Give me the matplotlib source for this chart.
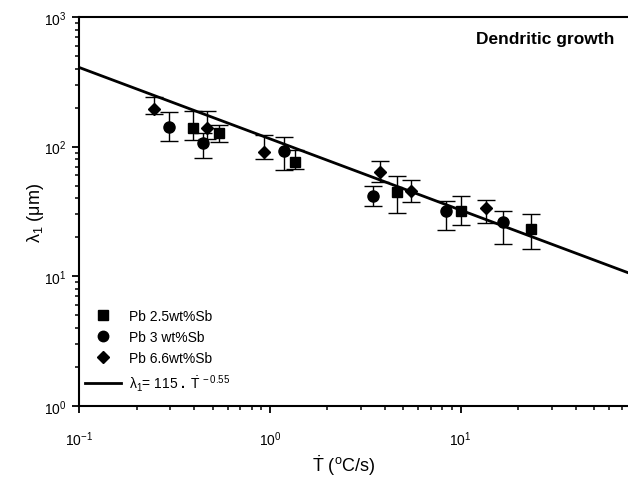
import matplotlib
matplotlib.use("Agg")
import matplotlib.pyplot as plt
import numpy as np

plt.rcParams['font.family'] = ['Liberation Sans', 'DejaVu Sans']
plt.rcParams['mathtext.fontset'] = 'custom'
plt.rcParams['mathtext.rm'] = 'Liberation Sans'
plt.rcParams['mathtext.it'] = 'Liberation Sans:italic'
plt.rcParams['mathtext.bf'] = 'Liberation Sans:bold'

# Cooling rate (C/s), spacing (um) and error bar ends for each alloy
pb25_rate = [0.393, 0.542, 1.35, 4.63, 9.99, 23.4]
pb25_spacing = [139, 127, 75.7, 44.9, 31.9, 23.1]
pb25_upper = [189, 147, 94.6, 59.7, 41.4, 30.1]
pb25_lower = [113, 108, 67.2, 30.6, 25.0, 16.3]

pb3_rate = [0.296, 0.443, 1.18, 3.45, 8.37, 16.7]
pb3_spacing = [141, 106, 92, 41.8, 32.0, 26.1]
pb3_upper = [186, 128, 119, 49.4, 38.3, 32.0]
pb3_lower = [111, 81.7, 66.4, 35.0, 22.7, 17.8]

pb66_rate = [0.247, 0.465, 0.933, 3.77, 5.51, 13.6]
pb66_spacing = [195, 139, 91.4, 63.4, 45.2, 33.4]
pb66_upper = [243, 187, 124, 77.9, 55.2, 38.7]
pb66_lower = [178, 114, 79.8, 53.0, 37.6, 25.8]

# Fitted power law: lambda1 = 115 * Tdot^-0.55
FIT_COEF = 115
FIT_EXP = -0.55

x_major = [0.1, 1, 10]

series = [
    (pb25_rate, pb25_spacing, pb25_upper, pb25_lower, 's', 7, "Pb 2.5wt%Sb"),
    (pb3_rate, pb3_spacing, pb3_upper, pb3_lower, 'o', 8, "Pb 3 wt%Sb"),
    (pb66_rate, pb66_spacing, pb66_upper, pb66_lower, 'D', 6.5, "Pb 6.6wt%Sb"),
]

fig = plt.figure(figsize=(6.28, 4.85), dpi=100)
ax = fig.add_axes([0.1263, 0.1608, 0.911, 0.802])

handles = []
for rate, spacing, upper, lower, marker, size, label in series:
    spacing = np.array(spacing)
    yerr = [spacing - np.array(lower), np.array(upper) - spacing]
    ax.errorbar(rate, spacing, yerr=yerr, fmt=marker, color='k', ms=size,
                ecolor='k', elinewidth=1, capsize=6.5, capthick=1)
    h, = ax.plot([], [], marker, color='k', ms=size - 0.5, label=label)
    handles.append(h)

x = np.logspace(-1, 2, 200)
h, = ax.plot(x, FIT_COEF * x ** FIT_EXP, color='k', lw=2,
             label=r'$\mathrm{\lambda}_1$= 115 $\mathbf{.}$ $\dot{\mathrm{T}}^{\,-0.55}$')
handles.append(h)

ax.set_xscale('log')
ax.set_yscale('log')
ax.set_xlim(0.1, 100)
ax.set_ylim(1, 1000)
ax.set_xticks(x_major)

for side in ['left', 'bottom', 'top', 'right']:
    ax.spines[side].set_linewidth(1.5)
ax.tick_params(which='major', direction='out', length=5, width=1.3, labelsize=10)
ax.tick_params(which='minor', direction='out', length=3, width=1.1)
ax.tick_params(axis='x', which='major', pad=12)
ax.tick_params(axis='y', which='major', pad=4)

ax.set_xlabel(r'$\dot{\mathrm{T}}$ ($^\mathrm{o}$C/s)', fontsize=13)
ax.set_ylabel(r'$\mathrm{\lambda}_1$ ($\mathrm{\mu}$m)', fontsize=13)
ax.xaxis.set_label_coords(0.463, -0.12)
ax.yaxis.set_label_coords(-0.058, 0.5)

fig.text(614 / 628, 1 - 32 / 485, "Dendritic growth",
         ha='right', va='top', fontsize=12.5, fontweight='bold')

ax.legend(handles=handles, loc='lower left', bbox_to_anchor=(-0.005, 0.012),
          frameon=False, fontsize=10, handlelength=2.6, handletextpad=0.6,
          labelspacing=0.5, borderaxespad=0.2)

fig.savefig("out.png", dpi=100)
